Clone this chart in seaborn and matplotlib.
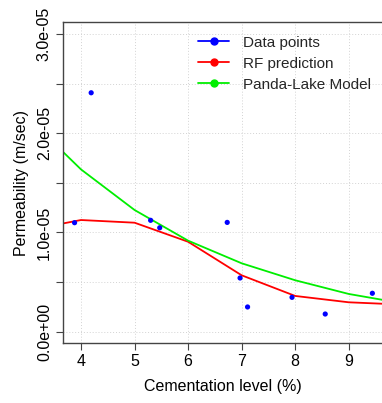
import numpy as np
import pandas as pd
import seaborn as sns
import matplotlib.pyplot as plt
from matplotlib.lines import Line2D

# observed samples
cement_obs = [3.88, 4.19, 5.30, 5.47, 6.73, 6.97, 7.11, 7.94, 8.56, 9.44]
perm_obs = [1.098e-5, 2.407e-5, 1.122e-5, 1.047e-5, 1.101e-5,
            0.541e-5, 0.249e-5, 0.346e-5, 0.178e-5, 0.387e-5]

# model curves
cement_grid = [3, 4, 5, 6, 7, 8, 9, 10]
perm_rf = [1.022e-5, 1.125e-5, 1.098e-5, 0.906e-5, 0.568e-5, 0.360e-5, 0.296e-5, 0.273e-5]
perm_pl = [2.160e-5, 1.635e-5, 1.226e-5, 0.917e-5, 0.689e-5, 0.518e-5, 0.380e-5, 0.286e-5]

yticks = [0, 0.5e-5, 1.0e-5, 1.5e-5, 2.0e-5, 2.5e-5, 3.0e-5]
ylabels = ["0.0e+00", "", "1.0e-05", "", "2.0e-05", "", "3.0e-05"]
xticks = [4, 5, 6, 7, 8, 9]


def main():
    sns.set_style("white")
    plt.rcParams["font.family"] = ["Liberation Sans", "DejaVu Sans"]

    fig = plt.figure(figsize=(3.82, 4.03), dpi=100)
    ax = fig.add_axes([63 / 382, 1 - 343 / 403, 1 - 63 / 382, (343 - 22) / 403])

    curves = pd.DataFrame({"x": cement_grid, "rf": perm_rf, "pl": perm_pl})
    sns.lineplot(data=curves, x="x", y="rf", color="red", lw=1.3, ax=ax)
    sns.lineplot(data=curves, x="x", y="pl", color="#00ee00", lw=1.3, ax=ax)
    sns.scatterplot(x=cement_obs, y=perm_obs, color="blue", s=14,
                    edgecolor="none", ax=ax, zorder=3)

    ax.set_xlim(3.664, 9.62)
    ax.set_ylim(-1.14e-6, 3.12e-5)
    ax.set_xticks(xticks)
    ax.set_yticks(yticks)
    ax.set_yticklabels(ylabels, rotation=90, va="center")
    ax.tick_params(axis="both", labelsize=11.5, length=5, width=0.8,
                   color="#444444", labelcolor="black", direction="out",
                   pad=3, left=True, bottom=True)
    ax.grid(True, color="#d3d3d3", linestyle=(0, (1, 2)), lw=0.7)
    for side in ["left", "bottom", "top"]:
        ax.spines[side].set_color("#444444")
        ax.spines[side].set_linewidth(1.0)
    ax.spines["right"].set_visible(False)

    ax.set_xlabel("Cementation level (%)", fontsize=11.5, labelpad=7,
                  color="black")
    ax.set_ylabel("Permeability (m/sec)", fontsize=11.5, labelpad=6,
                  color="black")

    handles = [
        Line2D([], [], color="blue", marker="o", ms=5, lw=1.3),
        Line2D([], [], color="red", marker="o", ms=5, lw=1.3),
        Line2D([], [], color="#00ee00", marker="o", ms=5, lw=1.3),
    ]
    ax.legend(handles, ["Data points", "RF prediction", "Panda-Lake Model"],
              loc="upper left", bbox_to_anchor=(0.405, 0.976), frameon=False,
              fontsize=11, handlelength=2.0, handletextpad=0.9,
              labelspacing=0.45, borderaxespad=0)

    fig.savefig("out.png", dpi=100)
    plt.close(fig)


if __name__ == "__main__":
    main()
